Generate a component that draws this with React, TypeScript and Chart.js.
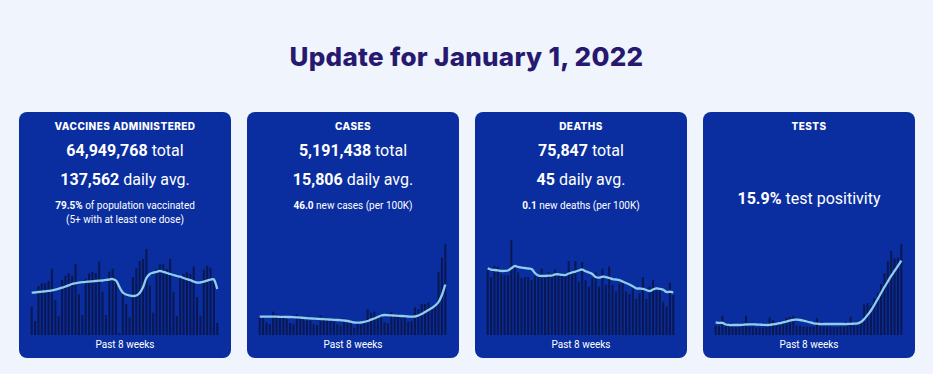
import React, { useEffect, useRef } from "react";
import { Chart, registerables } from "chart.js";

Chart.register(...registerables);

// ---- categories: past 8 weeks (Nov 7, 2021 – Jan 1, 2022) ----
const DAYS = [
  "Nov 7", "Nov 8", "Nov 9", "Nov 10", "Nov 11", "Nov 12", "Nov 13",
  "Nov 14", "Nov 15", "Nov 16", "Nov 17", "Nov 18", "Nov 19", "Nov 20",
  "Nov 21", "Nov 22", "Nov 23", "Nov 24", "Nov 25", "Nov 26", "Nov 27",
  "Nov 28", "Nov 29", "Nov 30", "Dec 1", "Dec 2", "Dec 3", "Dec 4",
  "Dec 5", "Dec 6", "Dec 7", "Dec 8", "Dec 9", "Dec 10", "Dec 11",
  "Dec 12", "Dec 13", "Dec 14", "Dec 15", "Dec 16", "Dec 17", "Dec 18",
  "Dec 19", "Dec 20", "Dec 21", "Dec 22", "Dec 23", "Dec 24", "Dec 25",
  "Dec 26", "Dec 27", "Dec 28", "Dec 29", "Dec 30", "Dec 31", "Jan 1",
];

// ---- vaccines administered (daily doses, 7-day avg) ----
const VACCINE_DAILY = [
  84600, 41900, 146500, 154600, 155000, 161500, 198200,
  104700, 55900, 164500, 177300, 184500, 177300, 212300,
  121700, 59800, 168300, 184500, 188400, 184500, 219200,
  129500, 59800, 189300, 198200, 169500, 5100, 124700,
  92700, 52900, 173400, 200300, 222200, 227200, 257100,
  147400, 66700, 197300, 211400, 211400, 197300, 227200,
  129500, 56800, 172500, 182400, 187500, 182400, 205400,
  113600, 57700, 195200, 207200, 201200, 166500, 35900,
];
const VACCINE_AVG = [
  126500, 127100, 128600, 129500, 130700, 131600, 133700,
  135400, 138400, 141400, 145000, 148600, 152500, 154600,
  156400, 157900, 159100, 159700, 160600, 161500, 162400,
  163000, 164500, 165900, 167400, 163000, 143500, 127100,
  121100, 118100, 116600, 118100, 125600, 143500, 170400,
  182400, 186300, 189000, 191400, 189000, 185400, 182400,
  179400, 176400, 174300, 170400, 166800, 163900, 160000,
  157000, 157000, 159400, 162400, 165900, 165900, 137562,
];

// ---- cases ----
const CASES_DAILY = [
  5420, 5400, 3980, 3440, 7290, 6480, 6260,
  5730, 5410, 3760, 3440, 6480, 5410, 4910,
  4480, 4480, 3440, 3130, 6260, 5230, 4910,
  4480, 4160, 3350, 2910, 5230, 4480, 3980,
  2280, 3980, 3350, 3980, 8140, 6980, 7290,
  5950, 5410, 3980, 3660, 7200, 6260, 6480,
  5410, 5410, 4160, 4380, 8670, 8140, 9700,
  9700, 10240, 9080, 9170, 19630, 24190, 28390,
];
const CASES_AVG = [
  5730, 5730, 5730, 5730, 5730, 5730, 5700,
  5670, 5630, 5630, 5570, 5510, 5450, 5350,
  5260, 5200, 5130, 5070, 5010, 4950, 4880,
  4820, 4760, 4700, 4630, 4540, 4380, 4160,
  3910, 3850, 3910, 4070, 4380, 4790, 5160,
  5630, 6100, 6260, 6200, 6130, 6070, 6010,
  5950, 5880, 5790, 5730, 5790, 6100, 6570,
  7200, 7830, 8450, 9230, 10330, 12520, 15806,
];

// ---- deaths ----
const DEATHS_DAILY = [
  69, 61, 73, 72, 64, 63, 63,
  100, 72, 66, 60, 61, 61, 58,
  62, 61, 70, 60, 66, 64, 69,
  63, 62, 62, 78, 65, 78, 56,
  77, 58, 51, 60, 66, 51, 70,
  53, 72, 53, 46, 54, 56, 46,
  43, 49, 38, 44, 61, 38, 51,
  58, 47, 50, 35, 30, 55, 42,
];
const DEATHS_AVG = [
  70.3, 69.0, 68.5, 68.0, 67.5, 67.5, 68.0,
  70.3, 72.7, 71.7, 70.9, 70.6, 70.1, 69.6,
  65.3, 62.7, 62.2, 62.4, 62.5, 62.7, 63.8,
  64.0, 63.4, 63.2, 64.8, 65.9, 66.9, 68.0,
  69.0, 67.2, 65.9, 64.3, 61.1, 60.4, 61.4,
  61.1, 60.1, 59.0, 58.5, 57.8, 56.4, 54.8,
  53.2, 51.3, 49.2, 49.0, 48.7, 47.4, 46.4,
  48.0, 49.2, 48.5, 47.7, 45.3, 45.6, 45.0,
];

// ---- tests (positivity %) ----
const TESTS_DAILY = [
  2.0, 2.0, 4.1, 2.0, 2.0, 1.8, 1.8,
  2.0, 2.0, 4.1, 1.8, 1.8, 1.6, 1.6,
  1.6, 2.5, 3.7, 3.2, 2.0, 2.1, 2.5,
  3.7, 3.9, 4.1, 2.0, 2.0, 1.8, 1.8,
  1.8, 1.8, 3.6, 1.9, 1.8, 1.8, 1.8,
  1.7, 1.7, 1.8, 1.8, 2.0, 3.9, 2.0,
  2.1, 3.2, 6.5, 6.8, 6.3, 7.9, 9.1,
  10.9, 13.2, 15.8, 18.0, 16.4, 16.6, 19.5,
];
const TESTS_AVG = [
  2.7, 2.6, 2.6, 2.25, 2.14, 2.14, 2.14,
  2.14, 2.18, 2.25, 2.29, 2.29, 2.25, 2.2,
  2.18, 2.14, 2.18, 2.29, 2.4, 2.53, 2.68,
  2.89, 3.1, 3.25, 3.27, 3.21, 3.06, 2.89,
  2.68, 2.5, 2.42, 2.35, 2.35, 2.35, 2.35,
  2.35, 2.35, 2.35, 2.35, 2.35, 2.4, 2.42,
  2.48, 2.78, 3.42, 4.28, 5.24, 6.42, 7.7,
  8.99, 10.27, 11.45, 12.63, 13.7, 14.77, 15.9,
];

const BG = "#F0F4FD";
const CARD = "#0A2E9F";
const TITLE = "#27196F";
const BAR = "#0A1852";
const LINE = "#8FCDEA";

function MiniChart({ bars, line, max }: { bars: number[]; line: number[]; max: number }) {
  const ref = useRef<HTMLCanvasElement>(null);
  useEffect(() => {
    const chart = new Chart(ref.current as HTMLCanvasElement, {
      type: "bar",
      data: {
        labels: DAYS,
        datasets: [
          {
            type: "line",
            data: line,
            borderColor: LINE,
            borderWidth: 2.3,
            pointRadius: 0,
            tension: 0.4,
            fill: false,
            order: 0,
          } as any,
          {
            type: "bar",
            data: bars,
            backgroundColor: BAR,
            barPercentage: 0.6,
            categoryPercentage: 1,
            order: 1,
          } as any,
        ],
      },
      options: {
        responsive: false,
        animation: false,
        layout: { padding: 0 },
        plugins: { legend: { display: false }, tooltip: { enabled: false } },
        scales: {
          x: { display: false },
          y: { display: false, min: 0, max },
        },
      },
    });
    return () => chart.destroy();
  }, []);
  return (
    <canvas
      ref={ref}
      width={189}
      height={100}
      style={{ position: "absolute", left: 11, top: 123, width: 189, height: 100 }}
    />
  );
}

const centered = (top: number, size: number, lh: number, extra: React.CSSProperties = {}): React.CSSProperties => ({
  position: "absolute",
  left: 0,
  width: 212,
  top,
  textAlign: "center",
  fontSize: size,
  lineHeight: lh + "px",
  color: "#fff",
  fontFamily: "Roboto, sans-serif",
  whiteSpace: "nowrap",
  ...extra,
});

function Card({
  left,
  title,
  children,
  bars,
  line,
  max,
}: {
  left: number;
  title: string;
  children?: React.ReactNode;
  bars: number[];
  line: number[];
  max: number;
}) {
  return (
    <div
      style={{
        position: "absolute",
        left,
        top: 112,
        width: 212,
        height: 246,
        background: CARD,
        borderRadius: 8,
        overflow: "hidden",
      }}
    >
      <div style={centered(7, 10, 14, { fontFamily: "Inter, sans-serif", fontWeight: 800, letterSpacing: 0.45 })}>{title}</div>
      {children}
      <MiniChart bars={bars} line={line} max={max} />
      <div style={centered(226, 10, 14)}>Past 8 weeks</div>
    </div>
  );
}

const Big = ({ top, b, t }: { top: number; b: string; t: string }) => (
  <div style={centered(top, 16, 20)}>
    <b style={{ fontWeight: 700 }}>{b}</b> {t}
  </div>
);
const Small = ({ top, b, t }: { top: number; b?: string; t: string }) => (
  <div style={centered(top, 10, 14)}>
    {b ? <b style={{ fontWeight: 700 }}>{b}</b> : null}
    {b ? " " : ""}
    {t}
  </div>
);

export default function App() {
  return (
    <div style={{ position: "absolute", left: 0, top: 0, width: 933, height: 374, background: BG, overflow: "hidden" }}>
      <div
        style={{
          position: "absolute",
          left: 0,
          width: 933,
          top: 40,
          textAlign: "center",
          fontFamily: "Inter, sans-serif",
          fontWeight: 800,
          fontSize: 26,
          lineHeight: "34px",
          letterSpacing: 0.3,
          color: TITLE,
          whiteSpace: "nowrap",
        }}
      >
        Update for January 1, 2022
      </div>
      <Card left={19} title="VACCINES ADMINISTERED" bars={VACCINE_DAILY} line={VACCINE_AVG} max={299000}>
        <Big top={29} b="64,949,768" t="total" />
        <Big top={58} b="137,562" t="daily avg." />
        <Small top={87} b="79.5%" t="of population vaccinated" />
        <Small top={101} t="(5+ with at least one dose)" />
      </Card>
      <Card left={247} title="CASES" bars={CASES_DAILY} line={CASES_AVG} max={31300}>
        <Big top={29} b="5,191,438" t="total" />
        <Big top={58} b="15,806" t="daily avg." />
        <Small top={87} b="46.0" t="new cases (per 100K)" />
      </Card>
      <Card left={475} title="DEATHS" bars={DEATHS_DAILY} line={DEATHS_AVG} max={105.4}>
        <Big top={29} b="75,847" t="total" />
        <Big top={58} b="45" t="daily avg." />
        <Small top={87} b="0.1" t="new deaths (per 100K)" />
      </Card>
      <Card left={703} title="TESTS" bars={TESTS_DAILY} line={TESTS_AVG} max={21.4}>
        <Big top={77} b="15.9%" t="test positivity" />
      </Card>
    </div>
  );
}
